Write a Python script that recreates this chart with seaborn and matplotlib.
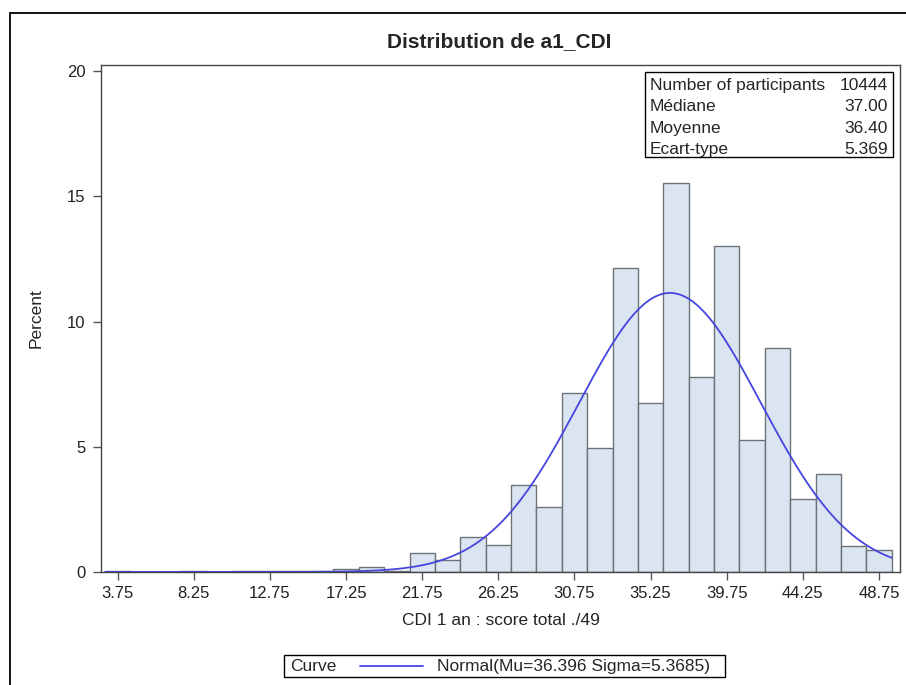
import numpy as np
import pandas as pd
import seaborn as sns
import matplotlib.pyplot as plt
from matplotlib.patches import Rectangle
from matplotlib.lines import Line2D

# bin centres (width 1.5) and percent of participants per bin
bin_centers = [3.75, 5.25, 6.75, 8.25, 9.75, 11.25, 12.75, 14.25, 15.75,
               17.25, 18.75, 20.25, 21.75, 23.25, 24.75, 26.25, 27.75, 29.25,
               30.75, 32.25, 33.75, 35.25, 36.75, 38.25, 39.75, 41.25, 42.75,
               44.25, 45.75, 47.25, 48.75]
percents = [0.02, 0.01, 0.01, 0.02, 0.01, 0.02, 0.02, 0.03, 0.04,
            0.10, 0.21, 0.05, 0.75, 0.48, 1.41, 1.08, 3.47, 2.61,
            7.13, 4.94, 12.15, 6.76, 15.52, 7.80, 13.01, 5.27, 8.93,
            2.90, 3.90, 1.04, 0.88]
tick_values = [3.75, 8.25, 12.75, 17.25, 21.75, 26.25, 30.75, 35.25, 39.75, 44.25, 48.75]
mu, sigma = 36.396, 5.3685
stats_labels = ["Number of participants", "Médiane", "Moyenne", "Ecart-type"]
stats_values = ["10444", "37.00", "36.40", "5.369"]

sns.set_style("white")
plt.rcParams['font.family'] = ['Liberation Sans', 'DejaVu Sans']
fs = 12.5

df = pd.DataFrame({"score": bin_centers, "pct": percents})
bin_w = 1.5
lo, hi = bin_centers[0] - bin_w / 2, bin_centers[-1] + bin_w / 2

fig = plt.figure(figsize=(9.06, 6.85), dpi=100)
ax = fig.add_axes([0.1115, 0.165, 0.882, 0.740])

sns.histplot(data=df, x="score", weights="pct", binwidth=bin_w, binrange=(lo, hi), ax=ax,
             color="#dbe5f1", edgecolor="#6b7278", linewidth=1, alpha=1)

# normal curve scaled to percent
xs = np.linspace(lo, hi, 400)
ys = 100 * bin_w * np.exp(-0.5 * ((xs - mu) / sigma) ** 2) / (sigma * np.sqrt(2 * np.pi))
sns.lineplot(x=xs, y=ys, ax=ax, color="#4545e0", linewidth=1.3)

ax.set_xlim(2.76, 50.0)
ax.set_ylim(0, 20.25)
ax.set_xticks(tick_values)
ax.set_xticklabels([f"{v:.2f}" for v in tick_values])
ax.set_yticks([0, 5, 10, 15, 20])
ax.tick_params(axis="both", direction="out", length=6, width=1, color="#555555",
               labelsize=12, labelcolor="#222222")
ax.tick_params(axis="x", pad=4)
ax.tick_params(axis="y", pad=5)
ax.tick_params(left=True, bottom=True)
for s in ax.spines.values():
    s.set_visible(True)
    s.set_color("#444444")
    s.set_linewidth(1)

ax.set_xlabel("CDI 1 an : score total ./49", fontsize=fs, labelpad=9)
ax.set_ylabel("Percent", fontsize=fs, labelpad=17)
fig.text(0.551, 0.940, "Distribution de a1_CDI", ha="center", va="center",
         fontsize=15, fontweight="bold")

# statistics inset box
x0, x1, ytop, ybot = 0.681, 0.991, 0.986, 0.8185
ax.add_patch(Rectangle((x0, ybot), x1 - x0, ytop - ybot, transform=ax.transAxes,
                       fill=False, edgecolor="black", linewidth=1, zorder=5))
row_y = [0.960, 0.918, 0.874, 0.833]
for lab, val, yy in zip(stats_labels, stats_values, row_y):
    ax.text(x0 + 0.006, yy, lab, transform=ax.transAxes, ha="left", va="center", fontsize=fs)
    ax.text(x1 - 0.006, yy, val, transform=ax.transAxes, ha="right", va="center", fontsize=fs)

# legend at the bottom
fig.add_artist(Rectangle((0.3135, 0.0117), 0.4867, 0.0321, transform=fig.transFigure,
                         fill=False, edgecolor="black", linewidth=1))
fig.text(0.320, 0.0277, "Curve", ha="left", va="center", fontsize=fs)
fig.add_artist(Line2D([0.397, 0.467], [0.0277, 0.0277], transform=fig.transFigure,
                      color="#4545e0", linewidth=1.3))
fig.text(0.482, 0.0277, f"Normal(Mu={mu} Sigma={sigma})", ha="left", va="center", fontsize=fs)

# outer frame of the graph
fig.add_artist(Rectangle((0.011, -0.1), 1.2, 1.081, transform=fig.transFigure,
                         fill=False, edgecolor="black", linewidth=1.3, clip_on=False))

fig.savefig("out.png", dpi=100)
